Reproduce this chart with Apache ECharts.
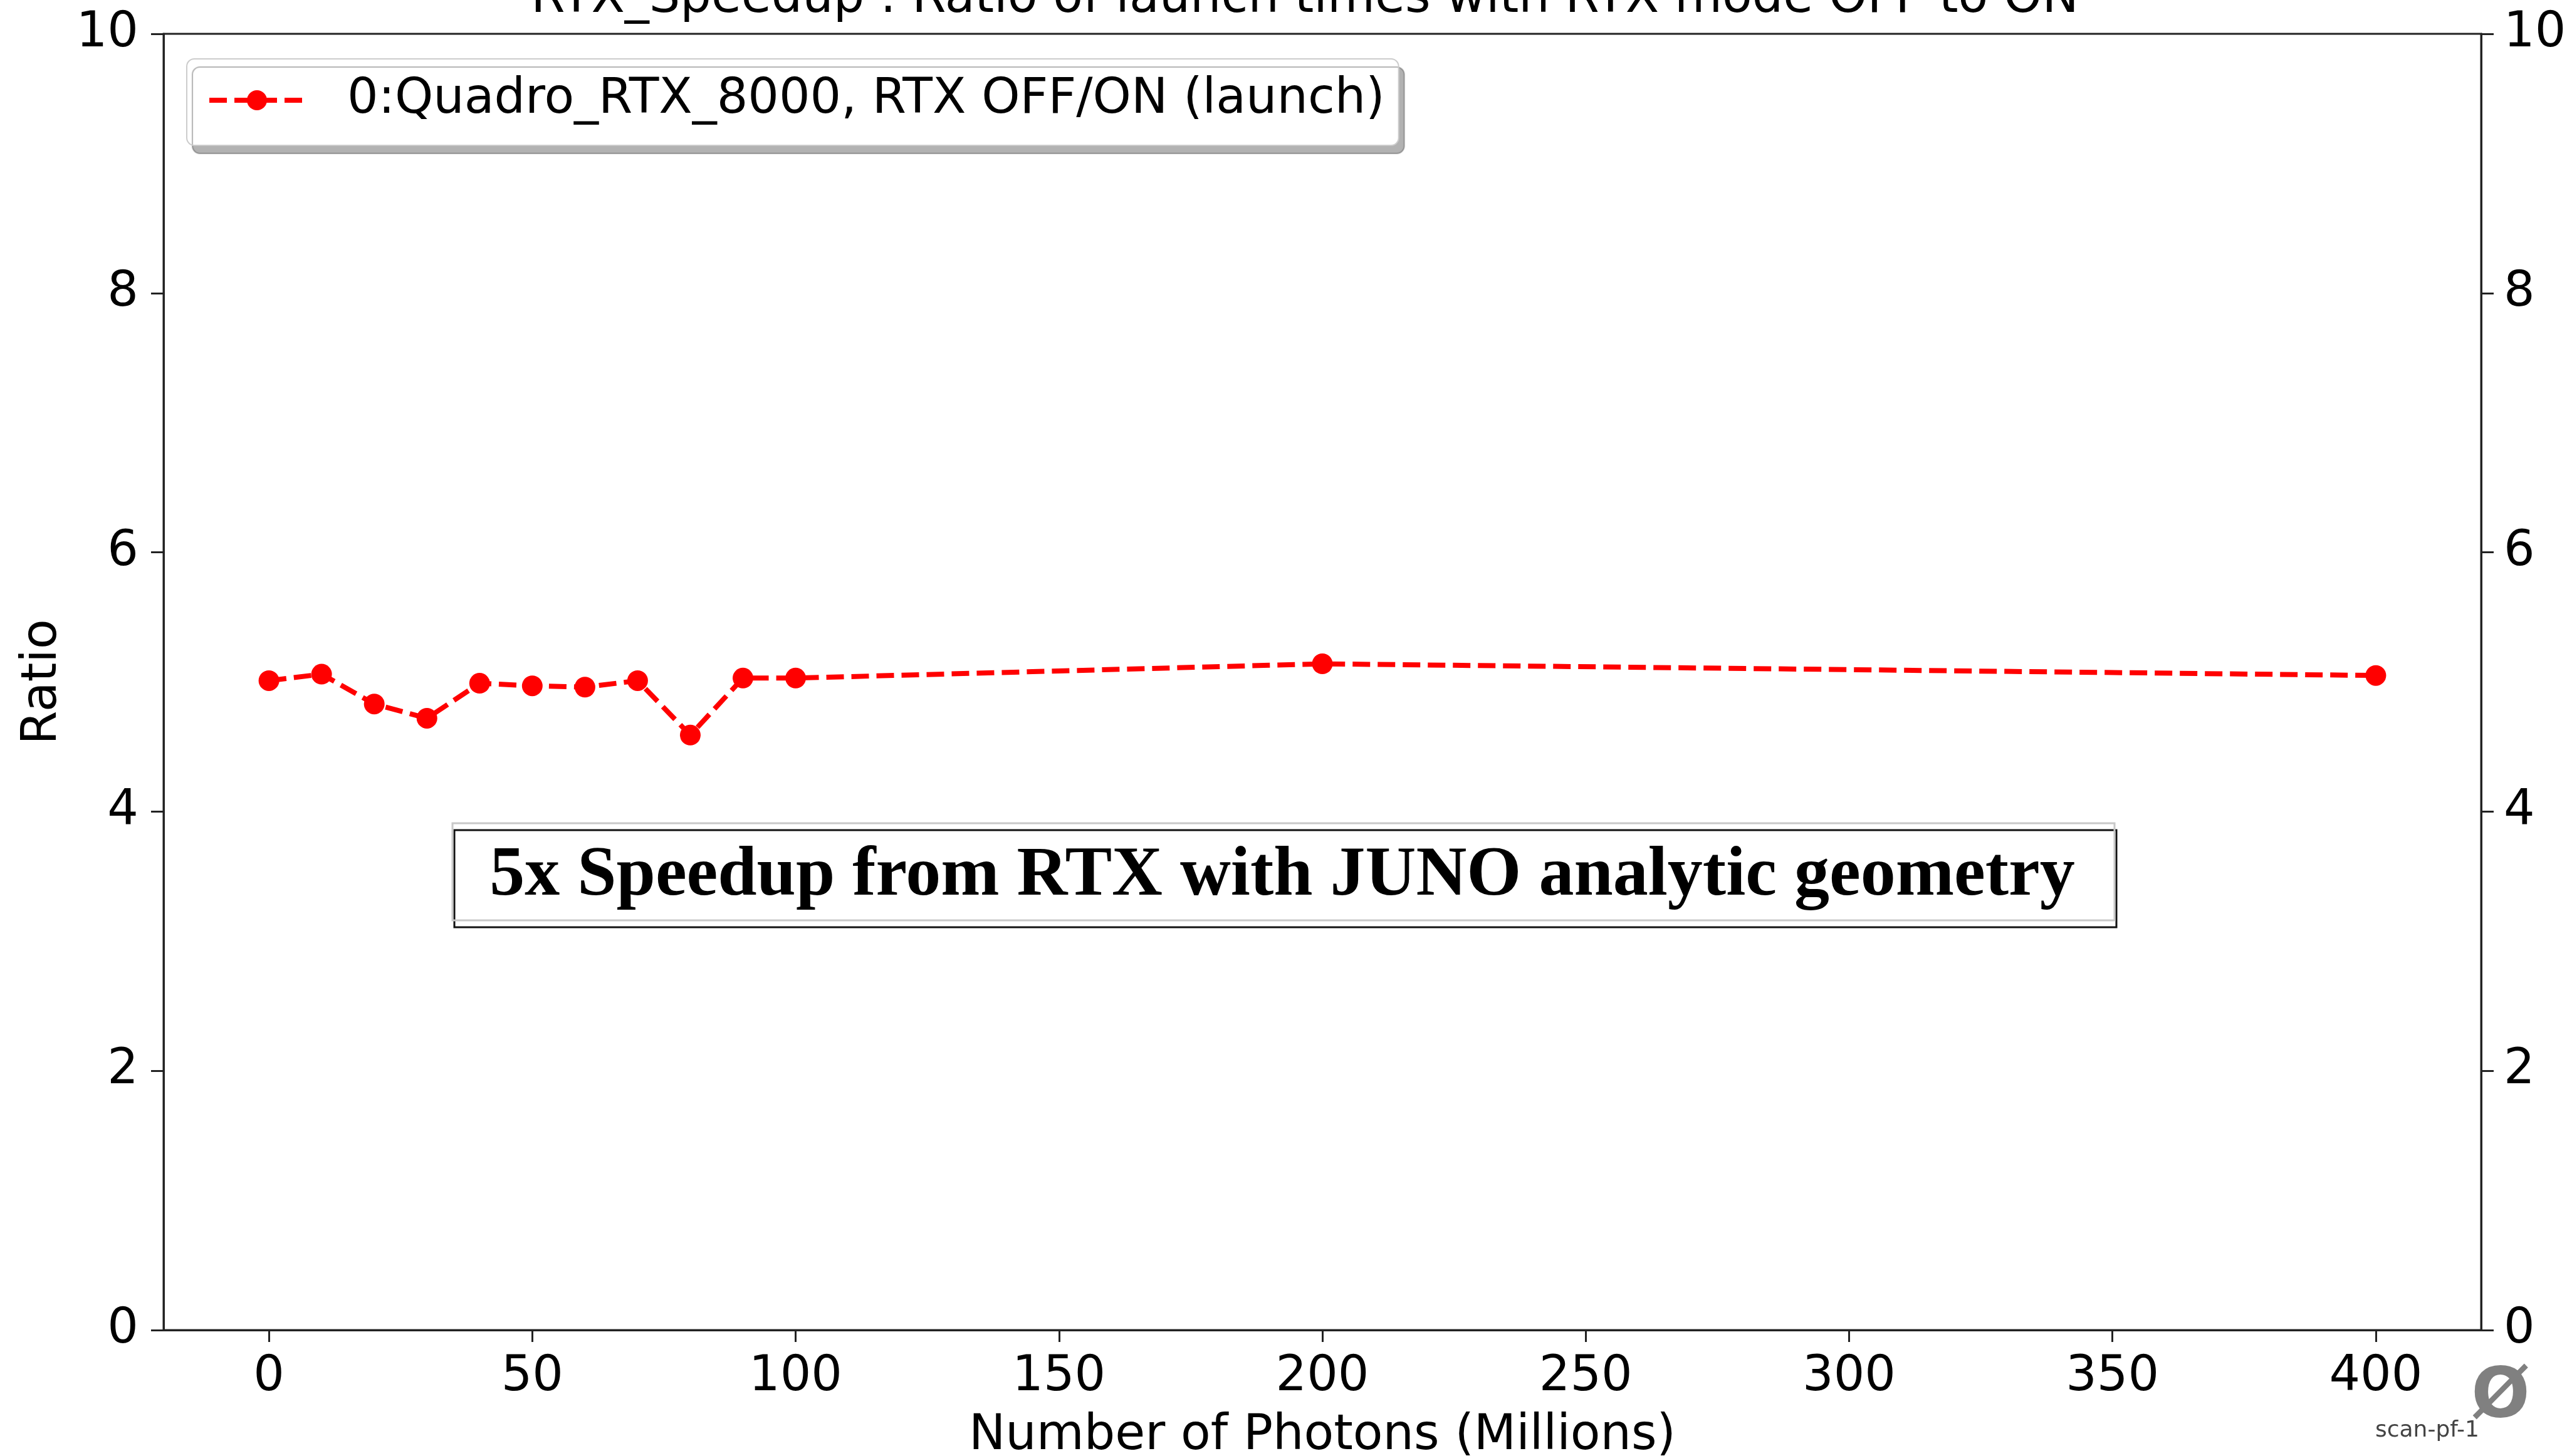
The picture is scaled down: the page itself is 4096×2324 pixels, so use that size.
<!DOCTYPE html>
<html>
<head>
<meta charset="utf-8">
<title>RTX_Speedup</title>
<script src="https://cdn.jsdelivr.net/npm/echarts@6/dist/echarts.min.js"></script>
<style>
  html, body { margin: 0; padding: 0; background: #fff; }
  #chartContent { width: 4096px; height: 2324px; }
</style>
</head>
<body>
<div id="chartContent"></div>
<script>
// number of photons (millions) vs launch time ratio, RTX mode OFF / ON
var photons = [0, 10, 20, 30, 40, 50, 60, 70, 80, 90, 100, 200, 400];
var ratio = [5.01, 5.06, 4.83, 4.72, 4.99, 4.97, 4.96, 5.01, 4.59, 5.03, 5.03, 5.14, 5.05];
var xTicks = [0, 50, 100, 150, 200, 250, 300, 350, 400];
var yTicks = [0, 2, 4, 6, 8, 10];
var seriesName = '0:Quadro_RTX_8000, RTX OFF/ON (launch)';
var titleText = 'RTX_Speedup : Ratio of launch times with RTX mode OFF to ON';
var noteText = '5x Speedup from RTX with JUNO analytic geometry';

var FONT = 'DejaVu Sans';
var INK = '#222';
var RED = '#ff0000';

var points = [];
for (var i = 0; i < photons.length; i++) {
  points.push([photons[i], ratio[i]]);
}

function yAxisOpt(pos, margin) {
  return {
    type: 'value',
    position: pos,
    min: yTicks[0],
    max: yTicks[yTicks.length - 1],
    interval: yTicks[1] - yTicks[0],
    axisLine: { show: true, onZero: false, lineStyle: { color: INK, width: 3 } },
    axisTick: { show: true, inside: false, length: 20, lineStyle: { color: INK, width: 3 } },
    axisLabel: { margin: margin, fontSize: 78, fontFamily: FONT, color: '#000' },
    splitLine: { show: false }
  };
}

var leftAxis = yAxisOpt('left', 40);
leftAxis.name = 'Ratio';
leftAxis.nameLocation = 'middle';
leftAxis.nameGap = 153;
leftAxis.nameTextStyle = { fontSize: 78, fontFamily: FONT, color: '#000' };

var option = {
  animation: false,
  backgroundColor: '#fff',
  grid: {
    show: true,
    left: 261,
    right: 137,
    top: 54,
    bottom: 201,
    containLabel: false,
    outerBoundsMode: 'none',
    borderColor: INK,
    borderWidth: 3,
    backgroundColor: 'transparent'
  },
  legend: {
    left: 298,
    top: 94,
    data: [seriesName],
    itemWidth: 152,
    itemHeight: 40,
    padding: [27, 22, 33, 32],
    backgroundColor: '#fff',
    borderColor: '#ccc',
    borderWidth: 2,
    borderRadius: 12,
    shadowColor: 'rgba(0,0,0,0.3)',
    shadowBlur: 1,
    shadowOffsetX: 9,
    shadowOffsetY: 13,
    lineStyle: { color: RED, width: 8, type: [28, 12] },
    itemStyle: { color: RED },
    textStyle: { fontSize: 78, fontFamily: FONT, color: '#000', padding: [0, 0, 0, 63] }
  },
  xAxis: {
    type: 'value',
    min: -20,
    max: 420,
    name: 'Number of Photons (Millions)',
    nameLocation: 'middle',
    nameGap: 131,
    nameTextStyle: { fontSize: 78, fontFamily: FONT, color: '#000' },
    axisLine: { show: true, onZero: false, lineStyle: { color: INK, width: 3 } },
    axisTick: { show: true, inside: false, length: 19, customValues: xTicks, lineStyle: { color: INK, width: 3 } },
    axisLabel: { margin: 37, fontSize: 78, fontFamily: FONT, color: '#000', customValues: xTicks },
    splitLine: { show: false }
  },
  yAxis: [leftAxis, yAxisOpt('right', 36)],
  series: [{
    name: seriesName,
    type: 'line',
    data: points,
    symbol: 'circle',
    symbolSize: 33,
    showSymbol: true,
    itemStyle: { color: RED },
    lineStyle: { color: RED, width: 8, type: [28, 12] },
    z: 3
  }],
  graphic: [
    // title sits half off the top edge, as in the original screenshot
    {
      type: 'text', x: 2082, y: -1,
      style: { text: titleText, font: '78px "DejaVu Sans"', fill: '#000', align: 'center', verticalAlign: 'middle' }
    },
    // framed annotation
    {
      type: 'rect', z: 10,
      shape: { x: 725, y: 1325, width: 2652, height: 155 },
      style: { fill: '#fff', stroke: '#111', lineWidth: 3 }
    },
    {
      type: 'rect', z: 11,
      shape: { x: 722, y: 1314, width: 2652, height: 155 },
      style: { fill: null, stroke: '#c8c8c8', lineWidth: 3 }
    },
    {
      type: 'text', z: 12, x: 2046, y: 1399,
      style: { text: noteText, font: 'bold 112px "Liberation Serif"', fill: '#000', align: 'center', verticalAlign: 'middle' }
    },
    // slide marks in the bottom right corner
    {
      type: 'text', x: 3990, y: 2232,
      style: { text: '\u00d8', font: 'bold 110px "DejaVu Sans"', fill: '#808080', align: 'center', verticalAlign: 'middle' }
    },
    {
      type: 'text', x: 3790, y: 2284,
      style: { text: 'scan-pf-1', font: '36px "DejaVu Sans"', fill: '#444', align: 'left', verticalAlign: 'middle' }
    }
  ]
};

var chart = echarts.init(document.getElementById('chartContent'));
chart.setOption(option);
</script>
</body>
</html>
